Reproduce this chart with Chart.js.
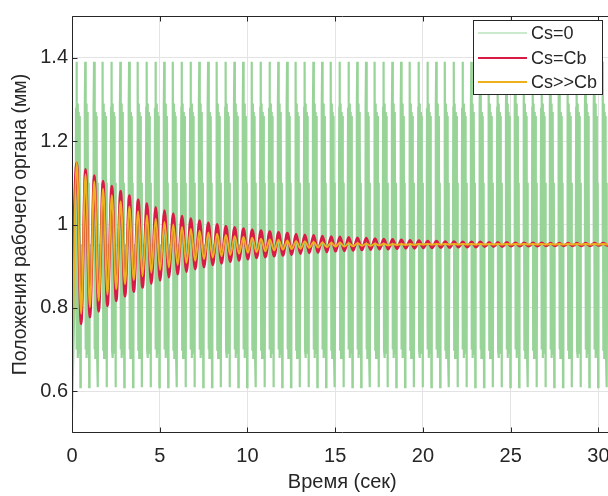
<!DOCTYPE html>
<html>
<head>
<meta charset="utf-8">
<script src="https://cdn.jsdelivr.net/npm/chart.js@4.4.1/dist/chart.umd.min.js"></script>
<style>
  html, body { margin: 0; padding: 0; background: #fff; overflow: hidden; }
  #wrap { position: relative; width: 640px; height: 496px; }
</style>
</head>
<body>
<div id="wrap"><canvas id="plot"></canvas></div>
<script>
// values
const xTicks = [0, 5, 10, 15, 20, 25, 30];
const yTicks = [0.6, 0.8, 1, 1.2, 1.4];
const seriesNames = ['Cs=0', 'Cs=Cb', 'Cs>>Cb'];

const period = 0.5;      // s, spacing of the oscillation peaks
const firstPeak = 0.27;  // s, first crest
const firstTrough = 0.52;

// Cs=0: one burst of the undamped trace (time offset, value), it repeats every period
const greenStart = 0.21;
const greenBurstDt  = [0, 0.02, 0.045, 0.07, 0.095, 0.12, 0.145, 0.17, 0.195, 0.22, 0.245, 0.27, 0.29];
const greenBurstVal = [0.95, 1.28, 1.39, 0.70, 1.29, 0.68, 1.27, 0.79, 1.26, 0.69, 1.10, 0.61, 0.95];
const greenFirst = 0.55;

// Cs=Cb: crests and troughs
const redStart = 0.86;
const redPeaks = [1.148,1.132,1.117,1.104,1.092,1.080,1.069,1.059,1.050,1.041,1.033,1.026,1.020,1.014,1.009,1.004,
  1.000,0.996,0.993,0.990,0.987,0.985,0.983,0.981,0.979,0.977,0.975,0.974,0.972,0.971,0.970,0.969,0.968,0.967,
  0.966,0.965,0.964,0.963,0.962,0.961,0.960,0.960,0.959,0.959,0.958,0.958,0.958,0.957,0.957,0.957,0.956,0.956,
  0.956,0.956,0.955,0.955,0.955,0.955,0.955,0.955,0.955,0.955];
const redTroughs = [0.762,0.778,0.792,0.805,0.817,0.828,0.839,0.849,0.858,0.866,0.874,0.881,0.887,0.893,0.898,0.903,
  0.907,0.911,0.914,0.917,0.920,0.922,0.924,0.926,0.928,0.930,0.932,0.933,0.934,0.936,0.937,0.938,0.939,0.940,
  0.941,0.941,0.942,0.943,0.943,0.944,0.944,0.945,0.945,0.946,0.946,0.946,0.947,0.947,0.947,0.948,0.948,0.948,
  0.948,0.949,0.949,0.949,0.949,0.949,0.949,0.950,0.950,0.950];

// Cs>>Cb: crests and troughs
const orangeStart = 0.62;
const orangePeaks = [1.150,1.120,1.103,1.086,1.070,1.056,1.043,1.032,1.022,1.014,1.006,1.000,0.994,0.989,0.985,0.981,
  0.978,0.975,0.972,0.970,0.968,0.966,0.964,0.963,0.961,0.960,0.959,0.958,0.957,0.956,0.956,0.955,0.955,0.954,
  0.954,0.954,0.953,0.953,0.953,0.953,0.953,0.953,0.953,0.953,0.953,0.953,0.953,0.953,0.953,0.953,0.953,0.953,
  0.953,0.953,0.953,0.953,0.953,0.953,0.953,0.953,0.953,0.953];
const orangeTroughs = [0.786,0.802,0.817,0.832,0.845,0.857,0.867,0.876,0.884,0.891,0.897,0.903,0.908,0.913,0.917,0.921,
  0.924,0.927,0.930,0.932,0.934,0.936,0.938,0.940,0.941,0.942,0.944,0.945,0.946,0.947,0.947,0.948,0.949,0.949,
  0.950,0.950,0.951,0.951,0.951,0.952,0.952,0.952,0.952,0.952,0.952,0.952,0.952,0.952,0.952,0.952,0.952,0.952,
  0.952,0.952,0.952,0.952,0.952,0.952,0.952,0.952,0.952,0.952];

const colors = ['#98d398', '#d81b45', '#edb120'];

function crestsAndTroughs(start, peaks, troughs) {
  const pts = [{x: 0, y: start}];
  for (let k = 0; k < peaks.length; k++) {
    pts.push({x: firstPeak + k * period, y: peaks[k]});
    if (k < troughs.length) pts.push({x: firstTrough + k * period, y: troughs[k]});
  }
  return pts;
}

const greenPts = [{x: 0, y: greenFirst}];
for (let k = 0; k < redPeaks.length; k++) {
  greenBurstDt.forEach((dt, i) => {
    greenPts.push({x: greenStart + k * period + dt, y: greenBurstVal[i]});
  });
}

const font = '"Liberation Sans", Arial, Helvetica, sans-serif';
const ink = '#262626';

const frame = {
  id: 'frame',
  afterDraw(chart) {
    const {ctx, chartArea: a, scales: {x, y}} = chart;
    const L = Math.round(a.left) + 0.5, T = Math.round(a.top) + 0.5, B = Math.round(a.bottom) - 0.5;
    ctx.save();
    ctx.strokeStyle = ink;
    ctx.lineWidth = 1;
    ctx.beginPath();
    ctx.moveTo(L, T); ctx.lineTo(a.right, T);
    ctx.moveTo(L, T); ctx.lineTo(L, B);
    ctx.moveTo(L, B); ctx.lineTo(a.right, B);
    xTicks.forEach(v => {
      const px = Math.round(x.getPixelForValue(v)) + 0.5;
      ctx.moveTo(px, B); ctx.lineTo(px, B - 5);
      ctx.moveTo(px, T); ctx.lineTo(px, T + 5);
    });
    yTicks.forEach(v => {
      const py = Math.round(y.getPixelForValue(v)) + 0.5;
      ctx.moveTo(L, py); ctx.lineTo(L + 5, py);
    });
    ctx.stroke();

    // legend box
    const bx = 473.5, by = 20.5, bw = 129, bh = 74;
    ctx.fillStyle = '#fff';
    ctx.fillRect(bx, by, bw, bh);
    ctx.strokeRect(bx, by, bw, bh);
    const rows = [33, 58, 82];
    const widths = [1.2, 2, 2];
    ctx.font = '18px ' + font;
    ctx.textBaseline = 'middle';
    ctx.textAlign = 'left';
    seriesNames.forEach((name, i) => {
      ctx.beginPath();
      ctx.strokeStyle = colors[i];
      ctx.lineWidth = widths[i];
      ctx.moveTo(478, rows[i]); ctx.lineTo(527, rows[i]);
      ctx.stroke();
      ctx.fillStyle = ink;
      ctx.fillText(name, 531, rows[i] + 1);
    });
    ctx.restore();
  }
};

new Chart(document.getElementById('plot'), {
  type: 'line',
  data: {
    datasets: [
      { label: seriesNames[0], data: greenPts, borderColor: colors[0], borderWidth: 2.2,
        pointRadius: 0, tension: 0, order: 3 },
      { label: seriesNames[1], data: crestsAndTroughs(redStart, redPeaks, redTroughs), borderColor: colors[1],
        borderWidth: 2.8, pointRadius: 0, cubicInterpolationMode: 'monotone', order: 2 },
      { label: seriesNames[2], data: crestsAndTroughs(orangeStart, orangePeaks, orangeTroughs), borderColor: colors[2],
        borderWidth: 2, pointRadius: 0, cubicInterpolationMode: 'monotone', order: 1 }
    ]
  },
  options: {
    responsive: true,
    maintainAspectRatio: false,
    animation: false,
    layout: { padding: { top: 7, right: 27.5, bottom: 0, left: 0 } },
    plugins: { legend: { display: false }, tooltip: { enabled: false } },
    scales: {
      x: {
        type: 'linear', min: 0, max: 30.8,
        afterBuildTicks: s => { s.ticks = xTicks.map(v => ({value: v})); },
        afterFit: s => { s.height = 63; },
        grid: { color: '#e3e3e3', drawTicks: false },
        border: { display: false },
        ticks: { color: ink, padding: 11, font: { family: font, size: 20 }, callback: v => String(v) },
        title: { display: true, text: 'Время (сек)', color: ink, padding: { top: 0, bottom: 2 },
          font: { family: font, size: 20 } }
      },
      y: {
        type: 'linear', min: 0.5, max: 1.5,
        afterBuildTicks: s => { s.ticks = yTicks.map(v => ({value: v})); },
        afterFit: s => { s.width = 72; },
        grid: { color: '#e3e3e3', drawTicks: false },
        border: { display: false },
        ticks: { color: ink, padding: 4, font: { family: font, size: 20 }, callback: v => String(v) },
        title: { display: true, text: 'Положения рабочего органа (мм)', color: ink, padding: { top: 9, bottom: 0 },
          font: { family: font, size: 19.5 } }
      }
    }
  },
  plugins: [frame]
});
</script>
</body>
</html>
